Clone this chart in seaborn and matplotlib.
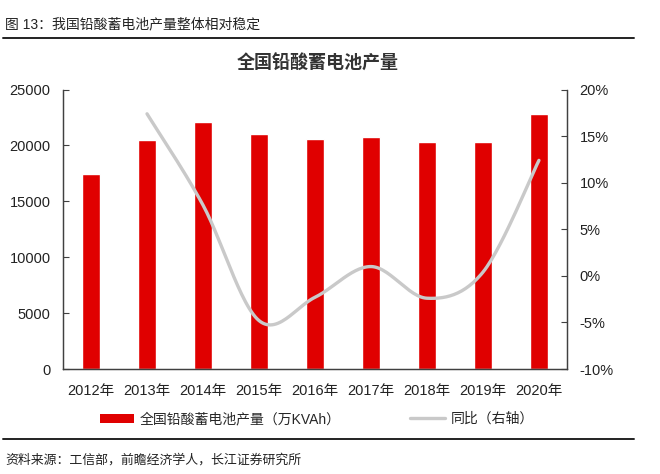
import numpy as np
import pandas as pd
import matplotlib
matplotlib.use("Agg")
import matplotlib.pyplot as plt
from matplotlib.lines import Line2D
from matplotlib.patches import Patch
import seaborn as sns

years = ["2012年", "2013年", "2014年", "2015年", "2016年", "2017年", "2018年", "2019年", "2020年"]
production = [17470, 20520, 22100, 21050, 20580, 20790, 20310, 20280, 22790]
yoy_years = ["2013年", "2014年", "2015年", "2016年", "2017年", "2018年", "2019年", "2020年"]
yoy_pct = [17.4, 7.6, -4.8, -2.3, 1.0, -2.4, 0.4, 12.4]

BAR_RED = "#e00000"
LINE_GRAY = "#c9c9c9"
SPINE = "#404040"


def smooth_curve(xs, ys, steps=30):
    # catmull-rom style smoothing, like the office "smoothed line" option
    xs = np.asarray(xs, float)
    ys = np.asarray(ys, float)
    px = np.concatenate([[xs[0]], xs, [xs[-1]]])
    py = np.concatenate([[ys[0]], ys, [ys[-1]]])
    out_x, out_y = [], []
    t = np.linspace(0, 1, steps)
    for i in range(1, len(px) - 2):
        for p, out in ((px, out_x), (py, out_y)):
            p0, p1, p2, p3 = p[i - 1], p[i], p[i + 1], p[i + 2]
            m1 = (p2 - p0) / 2
            m2 = (p3 - p1) / 2
            h00 = 2 * t**3 - 3 * t**2 + 1
            h10 = t**3 - 2 * t**2 + t
            h01 = -2 * t**3 + 3 * t**2
            h11 = t**3 - t**2
            out.extend(h00 * p1 + h10 * m1 + h01 * p2 + h11 * m2)
    return np.array(out_x), np.array(out_y)


sns.set_style("white")
plt.rcParams["font.family"] = ["Liberation Sans", "Noto Sans CJK SC", "DejaVu Sans"]

fig = plt.figure(figsize=(6.6, 4.74), dpi=100)
ax = fig.add_axes([0.0955, 0.2215, 0.7635, 0.5895])

df = pd.DataFrame({"year": years, "production": production})
sns.barplot(data=df, x="year", y="production", color=BAR_RED, width=0.31,
            saturation=1, ax=ax)

ax2 = ax.twinx()
pos = [years.index(y) for y in yoy_years]
sx, sy = smooth_curve(pos, yoy_pct)
sns.lineplot(x=sx, y=sy, color=LINE_GRAY, lw=2.4, sort=False, ax=ax2)

ax.set_xlim(-0.5, len(years) - 0.5)
ax.set_ylim(0, 25000)
ax.set_yticks(np.arange(0, 25001, 5000))
ax.set_xlabel("")
ax.set_ylabel("")
ax2.set_ylim(-10, 20)
ax2.set_yticks(np.arange(-10, 21, 5))
ax2.set_yticklabels([f"{v}%" for v in range(-10, 21, 5)])

ax.set_xticks(np.arange(-0.5, len(years)), minor=True)
ax.tick_params(axis="x", which="major", length=0, pad=11, labelsize=10.5, colors="#222222")
ax.tick_params(axis="x", which="minor", direction="in", length=4, width=0.8, color=SPINE)
ax.tick_params(axis="y", direction="in", length=4, width=0.8, color=SPINE, pad=9,
               labelsize=10.5, labelcolor="#222222", left=True)
ax2.tick_params(axis="y", direction="in", length=4, width=0.8, color=SPINE, pad=9,
                labelsize=10.5, labelcolor="#222222", right=True)

for a in (ax, ax2):
    a.spines["top"].set_visible(False)
    for s in ("left", "right", "bottom"):
        a.spines[s].set_color(SPINE)
        a.spines[s].set_linewidth(0.9)

fig.text(0.482, 0.866, "全国铅酸蓄电池产量", ha="center", va="center",
         fontsize=13, fontweight="bold", color="#333333")

fig.text(0.008, 0.948, "图 13：我国铅酸蓄电池产量整体相对稳定", ha="left", va="center",
         fontsize=10, color="#222222")
fig.add_artist(Line2D([0.005, 0.961], [0.92, 0.92], color="#222222", lw=1.4))
fig.add_artist(Line2D([0.005, 0.961], [0.074, 0.074], color="#222222", lw=1.4))
fig.text(0.008, 0.03, "资料来源：工信部，前瞻经济学人，长江证券研究所", ha="left", va="center",
         fontsize=9.3, color="#222222")

handles = [Patch(facecolor=BAR_RED, edgecolor="none"),
           Line2D([0], [0], color=LINE_GRAY, lw=2.4)]
labels = ["全国铅酸蓄电池产量（万KVAh）", "同比（右轴）"]
fig.legend(handles, labels, loc="center", bbox_to_anchor=(0.48, 0.116), ncol=2,
           frameon=False, fontsize=10, handlelength=2.5, handleheight=0.6,
           columnspacing=5.0, handletextpad=0.4)

fig.savefig("out.png", dpi=100)
